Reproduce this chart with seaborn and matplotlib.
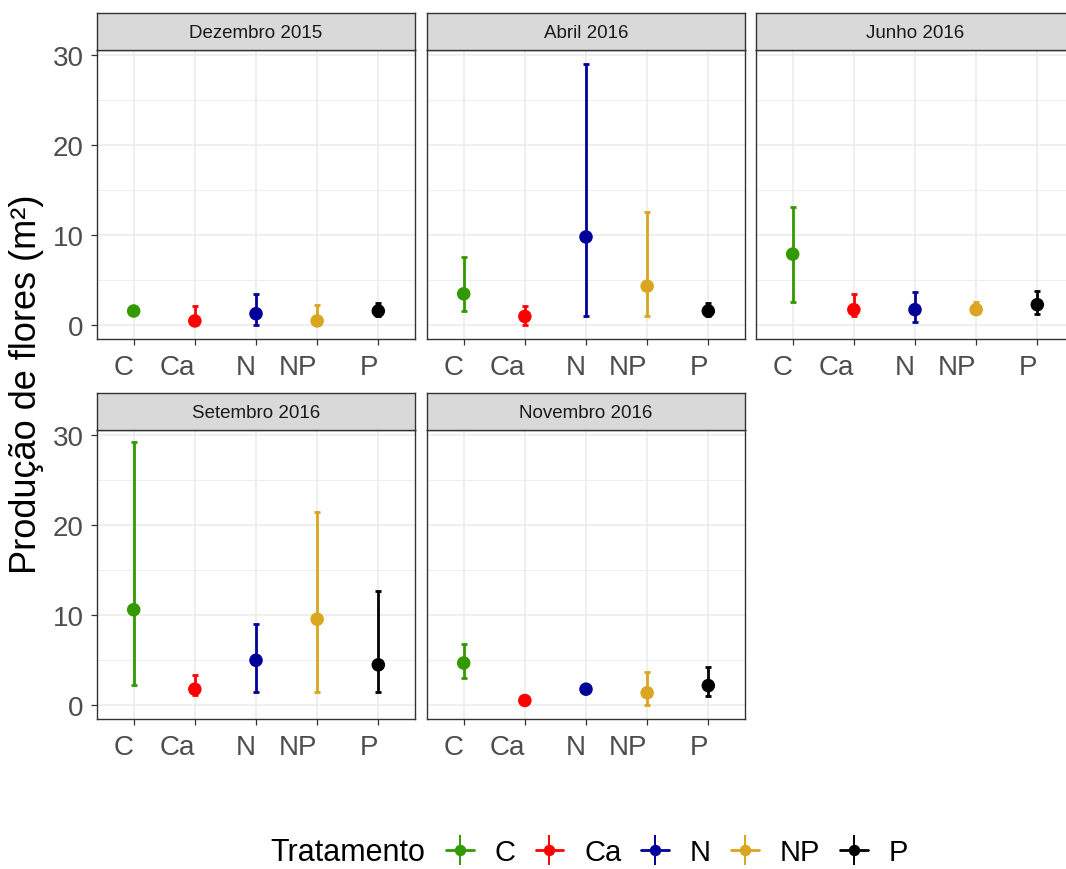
import matplotlib
matplotlib.use("Agg")
import matplotlib.pyplot as plt
import seaborn as sns
import pandas as pd
import numpy as np
from matplotlib.lines import Line2D
from matplotlib.legend_handler import HandlerTuple

sns.set_theme(style="white")
plt.rcParams['font.family'] = ['Liberation Sans', 'DejaVu Sans']

# ---------------- data ----------------
treatments = ["C", "Ca", "N", "NP", "P"]
months = ["Dezembro 2015", "Abril 2016", "Junho 2016", "Setembro 2016", "Novembro 2016"]
colors = ["#339900", "#FF0000", "#000099", "#DAA520", "#000000"]

mean_dez = [1.6, 0.5, 1.3, 0.5, 1.6]
low_dez = [1.4, 0.0, 0.0, 0.0, 1.1]
high_dez = [1.8, 2.1, 3.5, 2.3, 2.5]

mean_abr = [3.5, 1.0, 9.8, 4.35, 1.6]
low_abr = [1.6, 0.0, 1.1, 1.1, 1.1]
high_abr = [7.6, 2.1, 28.9, 12.6, 2.5]

mean_jun = [7.9, 1.75, 1.75, 1.75, 2.3]
low_jun = [2.6, 1.1, 0.35, 1.3, 1.3]
high_jun = [13.1, 3.5, 3.65, 2.6, 3.8]

mean_set = [10.6, 1.8, 5.0, 9.55, 4.5]
low_set = [2.3, 1.2, 1.5, 1.5, 1.5]
high_set = [29.2, 3.4, 9.0, 21.4, 12.7]

mean_nov = [4.7, 0.55, 1.8, 1.4, 2.2]
low_nov = [3.0, 0.25, 1.6, 0.0, 1.1]
high_nov = [6.85, 0.85, 2.0, 3.7, 4.25]

means = [mean_dez, mean_abr, mean_jun, mean_set, mean_nov]
lows = [low_dez, low_abr, low_jun, low_set, low_nov]
highs = [high_dez, high_abr, high_jun, high_set, high_nov]

rows = []
for m, mu, lo, hi in zip(months, means, lows, highs):
    for k, (t, a, b, c) in enumerate(zip(treatments, mu, lo, hi)):
        rows.append({"Mes": m, "Tratamento": t, "pos": k, "media": a, "low": b, "high": c})
df = pd.DataFrame(rows)
palette = dict(zip(treatments, colors))

# ---------------- layout ----------------
W, H = 1066, 870
fig = plt.figure(figsize=(W / 100, H / 100), dpi=100)
fig.patch.set_facecolor("white")

col_x = [97, 427, 756]
panel_w = 318
row_plot = [(51, 340), (431, 720)]
strip_h = 37

grid_col = "#EBEBEB"
frame_col = "#333333"
tick_col = "#4D4D4D"

for i, m in enumerate(months):
    r, c = divmod(i, 3)
    x0 = col_x[c]
    ytop, ybot = row_plot[r]
    ax = fig.add_axes([x0 / W, 1 - ybot / H, panel_w / W, (ybot - ytop) / H])
    sax = fig.add_axes([x0 / W, 1 - ytop / H, panel_w / W, strip_h / H])

    sub = df[df["Mes"] == m]
    for _, row in sub.iterrows():
        t = row["Tratamento"]
        ax.errorbar([row["pos"]], [row["media"]],
                    yerr=[[row["media"] - row["low"]], [row["high"] - row["media"]]],
                    fmt="none", ecolor=palette[t], elinewidth=2.0, capsize=2.4,
                    capthick=2.0, zorder=3)
    sns.scatterplot(data=sub, x="pos", y="media", hue="Tratamento", palette=palette,
                    s=95, edgecolor="none", legend=False, ax=ax, zorder=4)

    ax.set_xlim(-0.6, 4.6)
    ax.set_ylim(-1.5, 30.5)
    ax.set_xticks(range(len(treatments)))
    ax.set_xticklabels(treatments, ha="right")
    ax.set_yticks([0, 10, 20, 30])
    ax.set_yticks([5, 15, 25], minor=True)
    ax.grid(True, which="major", color=grid_col, linewidth=1.1, zorder=0)
    ax.grid(True, which="minor", axis="y", color=grid_col, linewidth=0.6, zorder=0)
    ax.set_axisbelow(True)
    ax.set_xlabel("")
    ax.set_ylabel("")
    for s in ax.spines.values():
        s.set_color(frame_col)
        s.set_linewidth(1.0)
    ax.tick_params(axis="x", which="major", length=4, width=0.9, color=frame_col,
                   labelsize=20, labelcolor=tick_col, pad=7, bottom=True)
    if c == 0:
        ax.tick_params(axis="y", which="major", length=4, width=0.9, color=frame_col,
                       labelsize=20, labelcolor=tick_col, pad=5.5, left=True)
    else:
        ax.tick_params(axis="y", which="both", length=0, labelleft=False)
    ax.tick_params(axis="y", which="minor", length=0)

    sax.set_facecolor("#D9D9D9")
    sax.set_xticks([])
    sax.set_yticks([])
    for s in sax.spines.values():
        s.set_color(frame_col)
        s.set_linewidth(1.0)
    sax.text(0.5, 0.47, m, ha="center", va="center", fontsize=13.5,
             color="#1A1A1A", transform=sax.transAxes)

fig.text(27 / W, 1 - 384 / H, "Produção de flores (m²)", rotation=90,
         ha="center", va="center", fontsize=26, color="black")

# legend
fig.text(425 / W, 1 - 853 / H, "Tratamento", ha="right", va="center",
         fontsize=22, color="black")
handles = []
for t in treatments:
    col = palette[t]
    h = (Line2D([], [], color=col, linewidth=2.0),
         Line2D([], [], color=col, marker="|", markersize=21.5, markeredgewidth=1.4, linestyle="none"),
         Line2D([], [], color=col, marker="o", markersize=7.2, linestyle="none"))
    handles.append(h)
leg = fig.legend(handles, treatments, handler_map={tuple: HandlerTuple(ndivide=1)},
                 loc="center left", bbox_to_anchor=(446 / W, 1 - 853 / H), ncol=5,
                 frameon=False, fontsize=21, handlelength=0.95, handletextpad=0.72,
                 columnspacing=0.68, borderpad=0, borderaxespad=0)
for txt in leg.get_texts():
    txt.set_color("black")

fig.savefig("out.png", dpi=100, facecolor="white")
